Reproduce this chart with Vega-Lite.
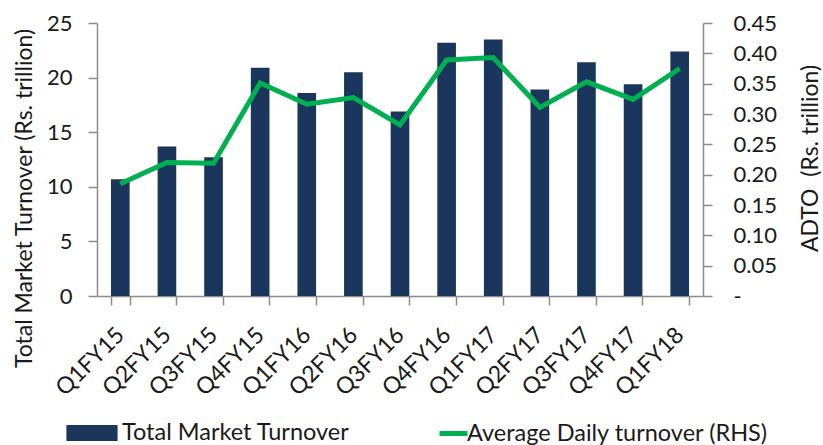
{
  "$schema": "https://vega.github.io/schema/vega-lite/v6.json",
  "width": 606,
  "height": 273,
  "autosize": {"type": "none"},
  "padding": {"left": 97, "top": 23, "right": 120, "bottom": 149},
  "background": "white",
  "data": {
    "values": [
      {"quarter": "Q1FY15", "tmt": 10.7, "adto": 0.185},
      {"quarter": "Q2FY15", "tmt": 13.7, "adto": 0.220},
      {"quarter": "Q3FY15", "tmt": 12.7, "adto": 0.219},
      {"quarter": "Q4FY15", "tmt": 20.9, "adto": 0.351},
      {"quarter": "Q1FY16", "tmt": 18.6, "adto": 0.316},
      {"quarter": "Q2FY16", "tmt": 20.5, "adto": 0.327},
      {"quarter": "Q3FY16", "tmt": 16.9, "adto": 0.282},
      {"quarter": "Q4FY16", "tmt": 23.2, "adto": 0.389},
      {"quarter": "Q1FY17", "tmt": 23.5, "adto": 0.393},
      {"quarter": "Q2FY17", "tmt": 18.9, "adto": 0.311},
      {"quarter": "Q3FY17", "tmt": 21.4, "adto": 0.353},
      {"quarter": "Q4FY17", "tmt": 19.4, "adto": 0.324},
      {"quarter": "Q1FY18", "tmt": 22.4, "adto": 0.375}
    ]
  },
  "config": {
    "view": {"stroke": null},
    "font": "Lato",
    "axis": {
      "labelFont": "Lato",
      "titleFont": "Lato",
      "labelFontSize": 22,
      "titleFontSize": 23,
      "titleFontWeight": "normal",
      "labelColor": "#1a1a1a",
      "titleColor": "#1a1a1a",
      "domainColor": "#8c8c8c",
      "tickColor": "#8c8c8c",
      "domainWidth": 1.5,
      "tickWidth": 1.5,
      "grid": false,
      "labelLimit": 0
    },
    "legend": {
      "labelFont": "Lato",
      "labelFontSize": 23.5,
      "labelColor": "#1a1a1a",
      "labelLimit": 0,
      "padding": 0
    }
  },
  "encoding": {
    "x": {
      "field": "quarter",
      "type": "nominal",
      "sort": null,
      "scale": {"paddingInner": 0.6, "paddingOuter": 0.3},
      "axis": {
        "title": null,
        "labelAngle": -45,
        "labelAlign": "right",
        "labelBaseline": "middle",
        "labelFontSize": 23,
        "tickBand": "extent",
        "tickSize": 9,
        "labelPadding": 26
      }
    }
  },
  "layer": [
    {
      "mark": {"type": "bar"},
      "encoding": {
        "y": {
          "field": "tmt",
          "type": "quantitative",
          "scale": {"domain": [0, 25], "nice": false},
          "axis": {
            "values": [0, 5, 10, 15, 20, 25],
            "title": "Total Market Turnover (Rs. trillion)",
            "tickSize": 9,
            "labelPadding": 16,
            "titleAngle": -90,
            "titleAlign": "center",
            "titleBaseline": "alphabetic",
            "titleX": -66,
            "titleY": 175
          }
        },
        "fill": {
          "datum": "Total Market Turnover",
          "type": "nominal",
          "scale": {"range": ["#1b365d"]},
          "legend": {
            "title": null,
            "orient": "none",
            "legendX": -21,
            "legendY": 394,
            "symbolType": "M-1.6,-0.5H1.6V0.5H-1.6Z",
            "symbolSize": 1024,
            "symbolStrokeWidth": 0,
            "labelOffset": 14
          }
        }
      }
    },
    {
      "mark": {"type": "line", "strokeWidth": 5},
      "encoding": {
        "y": {
          "field": "adto",
          "type": "quantitative",
          "scale": {"domain": [0, 0.45], "nice": false},
          "axis": {
            "orient": "right",
            "values": [0, 0.05, 0.1, 0.15, 0.2, 0.25, 0.3, 0.35, 0.4, 0.45],
            "labelExpr": "datum.value == 0 ? '\u00a0-' : format(datum.value, '.2f')",
            "title": "ADTO\u00a0 (Rs. trillion)",
            "tickSize": 9,
            "labelPadding": 21,
            "titleAngle": -90,
            "titleAlign": "center",
            "titleBaseline": "alphabetic",
            "titleX": 114,
            "titleY": 135
          }
        },
        "stroke": {
          "datum": "Average Daily turnover (RHS)",
          "type": "nominal",
          "scale": {"range": ["#00b050"]},
          "legend": {
            "title": null,
            "orient": "none",
            "legendX": 340,
            "legendY": 394,
            "symbolType": "stroke",
            "symbolSize": 784,
            "symbolStrokeWidth": 5,
            "labelOffset": -3
          }
        }
      }
    }
  ],
  "resolve": {"scale": {"y": "independent"}}
}
